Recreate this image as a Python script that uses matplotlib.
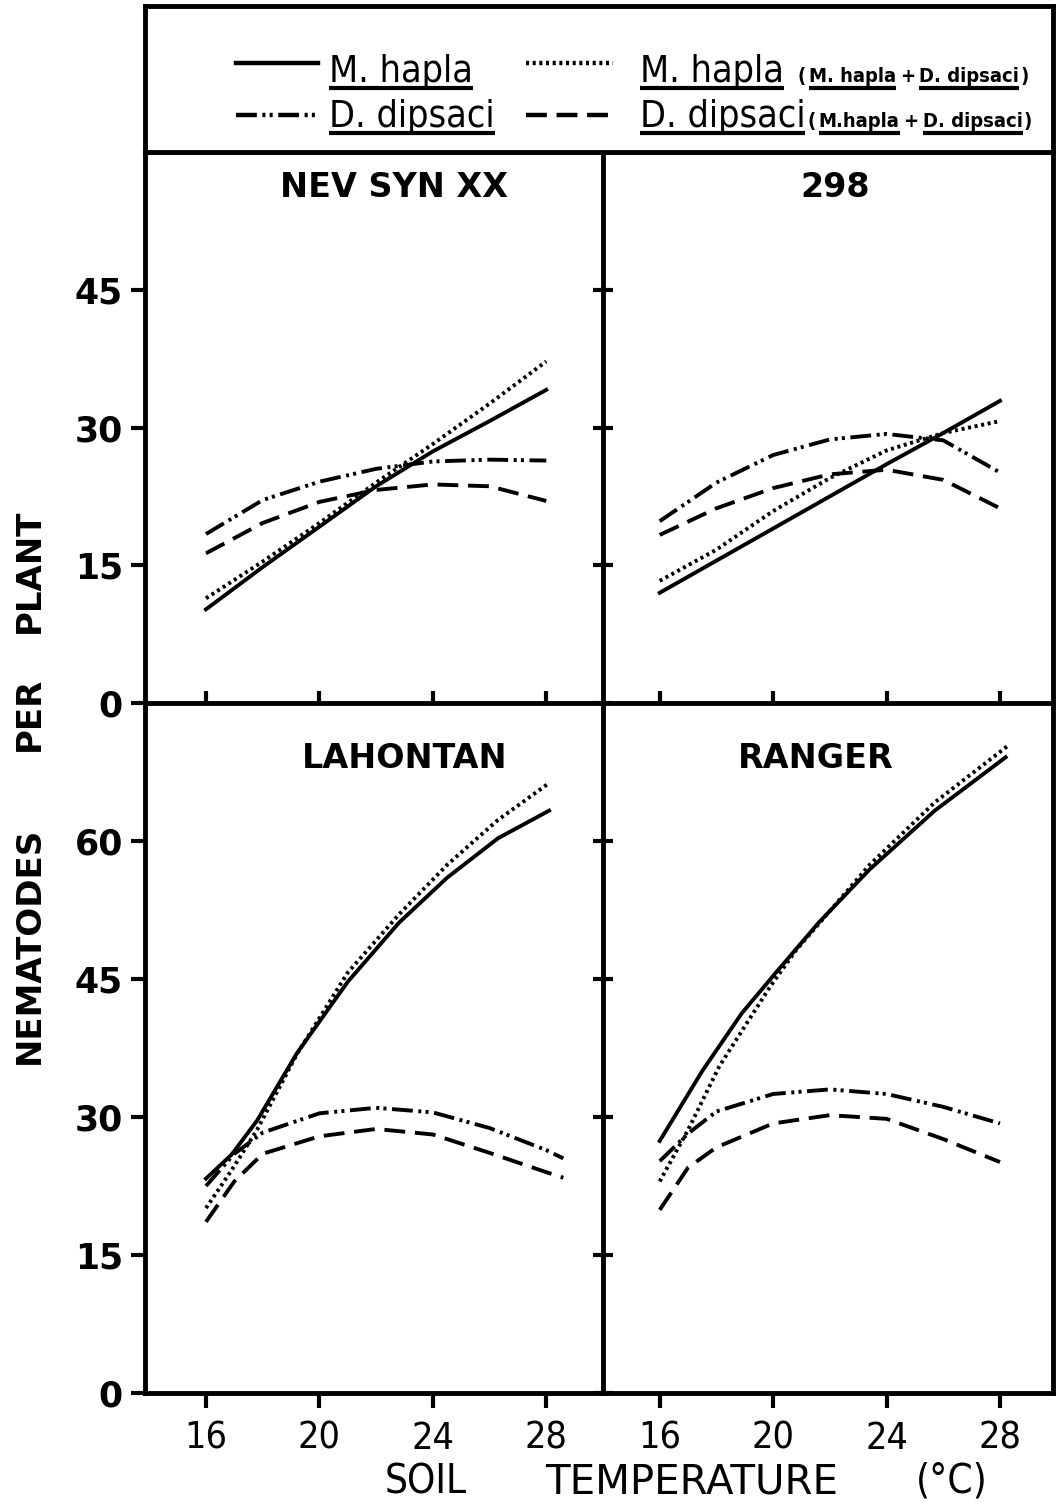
import matplotlib.pyplot as plt

plt.rcParams['lines.scale_dashes'] = False
plt.rcParams['font.family'] = 'DejaVu Sans'

# --- data (nematodes per plant vs soil temperature) ---
t7 = [16, 18, 20, 22, 24, 26, 28]

nev_mh = [10.2, 14.8, 19.2, 23.6, 27.4, 30.7, 34.1]
nev_mh_mix = [11.4, 15.4, 19.6, 24.0, 28.2, 32.6, 37.2]
nev_dd = [18.4, 22.1, 24.1, 25.5, 26.3, 26.5, 26.4]
nev_dd_mix = [16.3, 19.6, 21.9, 23.2, 23.8, 23.6, 22.0]

c298_mh = [12.0, 15.5, 19.0, 22.5, 26.0, 29.4, 32.9]
c298_mh_mix = [13.3, 16.7, 20.9, 24.5, 27.5, 29.4, 30.7]
c298_dd = [19.8, 24.0, 27.0, 28.7, 29.3, 28.6, 25.1]
c298_dd_mix = [18.3, 21.2, 23.4, 24.9, 25.4, 24.3, 21.2]

t_lah = [16, 16.9, 17.8, 19.2, 21.0, 22.8, 24.5, 26.3, 28.1]
lah_mh = [23.3, 25.9, 29.6, 36.9, 44.7, 51.1, 56.0, 60.3, 63.3]
lah_mh_mix = [20.1, 24.2, 28.6, 36.8, 45.7, 52.0, 57.4, 62.3, 66.3]
t_lah_dd = [16, 17, 18, 20, 22, 24, 26, 28, 28.6]
lah_dd = [22.5, 26.0, 28.3, 30.4, 31.0, 30.5, 28.8, 26.4, 25.5]
lah_dd_mix = [18.6, 23.0, 26.0, 27.9, 28.7, 28.1, 26.1, 24.0, 23.4]

t_ran = [16, 17.5, 18.9, 20.1, 21.6, 23.4, 25.7, 28.2]
ran_mh = [27.4, 35.0, 41.3, 45.7, 51.1, 56.9, 63.3, 69.1]
t_ran_mix = [16, 17, 18.1, 19.9, 20.8, 23.4, 25.7, 28.3]
ran_mh_mix = [23.0, 28.6, 35.5, 44.2, 48.1, 57.4, 64.2, 70.4]
t_ran_dd = [16, 17, 18, 20, 22, 24, 26, 28]
ran_dd = [25.2, 28.2, 30.6, 32.5, 33.0, 32.5, 31.1, 29.3]
ran_dd_mix = [19.9, 24.5, 26.7, 29.3, 30.2, 29.8, 27.6, 25.1]

xticks = [16, 20, 24, 28]
yticks_top = [0, 15, 30, 45]
yticks_bot = [0, 15, 30, 45, 60]

# line styles
LW = 2.8
st_mh = dict(color='black', lw=LW, linestyle='-')
st_mh_mix = dict(color='black', lw=LW, linestyle=(0, (2.2, 2.6)))
st_dd = dict(color='black', lw=LW, linestyle=(0, (15, 4, 2.2, 3, 2.2, 4)))
st_dd_mix = dict(color='black', lw=LW, linestyle=(0, (15, 7)))

fig = plt.figure(figsize=(10.6, 15.04), dpi=100)
W, H = 1060, 1504
L, M, R = 145 / W, 603 / W, 1053 / W
y_top = 1 - 152 / H
y_mid = 1 - 703 / H
y_bot = 1 - 1393 / H
y_leg = 1 - 6 / H

ax_tl = fig.add_axes([L, y_mid, M - L, y_top - y_mid])
ax_tr = fig.add_axes([M, y_mid, R - M, y_top - y_mid])
ax_bl = fig.add_axes([L, y_bot, M - L, y_mid - y_bot])
ax_br = fig.add_axes([M, y_bot, R - M, y_mid - y_bot])

panels = [
    (ax_tl, 'NEV SYN XX', (0.544, 0.935), t7, nev_mh, t7, nev_mh_mix, t7, nev_dd, t7, nev_dd_mix),
    (ax_tr, '298', (0.515, 0.935), t7, c298_mh, t7, c298_mh_mix, t7, c298_dd, t7, c298_dd_mix),
    (ax_bl, 'LAHONTAN', (0.568, 0.92), t_lah, lah_mh, t_lah, lah_mh_mix, t_lah_dd, lah_dd, t_lah_dd, lah_dd_mix),
    (ax_br, 'RANGER', (0.473, 0.92), t_ran, ran_mh, t_ran_mix, ran_mh_mix, t_ran_dd, ran_dd, t_ran_dd, ran_dd_mix),
]

for ax, title, tpos, x1, y1, x2, y2, x3, y3, x4, y4 in panels:
    ax.plot(x1, y1, **st_mh)
    ax.plot(x2, y2, **st_mh_mix)
    ax.plot(x3, y3, **st_dd)
    ax.plot(x4, y4, **st_dd_mix)
    for s in ax.spines.values():
        s.set_linewidth(3.5)
    ax.set_xticks(xticks)
    ax.text(tpos[0], tpos[1], title, transform=ax.transAxes, ha='center', va='center',
            fontsize=24, weight='bold')

ax_tl.set_xlim(13.85, 30.0)
ax_bl.set_xlim(13.85, 30.0)
ax_tr.set_xlim(14.0, 29.87)
ax_br.set_xlim(14.0, 29.87)

for ax in (ax_tl, ax_tr):
    ax.set_ylim(0, 60)
    ax.set_yticks(yticks_top)
    ax.tick_params(axis='x', direction='inout', length=18, width=3, labelbottom=False)
for ax in (ax_bl, ax_br):
    ax.set_ylim(0, 75)
    ax.set_yticks(yticks_bot)
    ax.tick_params(axis='x', direction='out', length=11, width=3, pad=9)
    ax.set_xticklabels([str(v) for v in xticks], fontsize=27, fontstretch='condensed')

for ax in (ax_tl, ax_bl):
    ax.tick_params(axis='y', direction='out', length=10, width=3, pad=6)
    ax.set_yticklabels([str(v) for v in ax.get_yticks()], fontsize=25, weight='bold')
for ax in (ax_tr, ax_br):
    ax.tick_params(axis='y', direction='inout', length=14, width=3, labelleft=False)
ax_tl.spines['right'].set_visible(False)
ax_bl.spines['right'].set_visible(False)
ax_tl.spines['bottom'].set_visible(False)
ax_tr.spines['bottom'].set_visible(False)

# legend box
lg = fig.add_axes([L, y_top, R - L, y_leg - y_top])
lg.set_xlim(0, 1)
lg.set_ylim(0, 1)
lg.set_xticks([])
lg.set_yticks([])
for s in lg.spines.values():
    s.set_linewidth(3.5)

fig.canvas.draw()
rend = fig.canvas.get_renderer()
inv = lg.transAxes.inverted()
px = 1.0 / ((R - L) * W)


def put(x, y, s, size, weight='normal', ul=False):
    t = lg.text(x, y, s, fontsize=size, va='baseline', ha='left', weight=weight,
                fontstretch='condensed')
    bb = t.get_window_extent(rend)
    x0 = inv.transform((bb.x0, bb.y0))[0]
    x1 = inv.transform((bb.x1, bb.y0))[0]
    if ul:
        lg.plot([x0, x1], [y - 0.041, y - 0.041], color='black', lw=3, solid_capstyle='butt')
    return x1


row_base = [0.479, 0.171]
row_line = [0.61, 0.253]
samples = [(0.10, 0.19, 0, st_mh), (0.42, 0.515, 0, st_mh_mix),
           (0.10, 0.19, 1, st_dd), (0.42, 0.515, 1, st_dd_mix)]
for x0, x1, r, st in samples:
    lg.plot([x0, x1], [row_line[r], row_line[r]], **dict(st, lw=3.2))

put(0.203, row_base[0], 'M. hapla', 27, ul=True)
put(0.203, row_base[1], 'D. dipsaci', 27, ul=True)
e1 = put(0.545, row_base[0], 'M. hapla', 27, ul=True)
e2 = put(0.545, row_base[1], 'D. dipsaci', 27, ul=True)

for xs, r, a, b in [(e1 + 14 * px, 0, 'M. hapla', 'D. dipsaci'),
                    (e2 + 2 * px, 1, 'M.hapla', 'D. dipsaci')]:
    y = row_base[r]
    xx = put(xs, y, '(', 14.5, 'bold')
    xx = put(xx + 3 * px, y, a, 14.5, 'bold', ul=True)
    xx = put(xx + 4 * px, y, '+', 14.5, 'bold')
    xx = put(xx + 4 * px, y, b, 14.5, 'bold', ul=True)
    put(xx + 1 * px, y, ')', 14.5, 'bold')

# axis labels
for word, yc in [('PLANT', 571), ('PER', 714), ('NEMATODES', 945)]:
    fig.text(29 / W, 1 - yc / H, word, rotation=90, ha='center', va='center',
             fontsize=24.5, weight='bold')
for word, xc, stretch in [('SOIL', 426, 'condensed'), ('TEMPERATURE', 692, 'normal'),
                          ('(°C)', 952, 'condensed')]:
    fig.text(xc / W, 1 - 1482 / H, word, ha='center', va='center',
             fontsize=29, fontstretch=stretch)

fig.savefig('out.png', dpi=100)
